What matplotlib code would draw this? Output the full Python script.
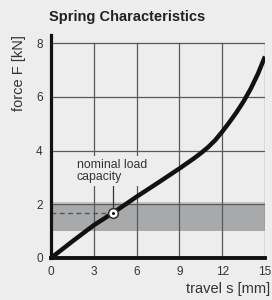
import numpy as np
import matplotlib
matplotlib.use('Agg')
import matplotlib.pyplot as plt

plt.rcParams['font.family'] = ['Liberation Sans', 'DejaVu Sans']

# spring curve
travel_mm = [0, 1.5, 3, 4.35, 6, 7.5, 9, 10, 10.5, 11, 11.5, 12, 12.5, 13,
             13.5, 14, 14.5, 15]
force_kN = [0, 0.62, 1.22, 1.68, 2.28, 2.8, 3.33, 3.7, 3.9, 4.12, 4.38, 4.7,
            5.05, 5.42, 5.83, 6.3, 6.85, 7.5]

x_ticks = [0, 3, 6, 9, 12, 15]
y_ticks = [0, 2, 4, 6, 8]

band_low, band_high = 1.0, 2.0
nominal_s, nominal_F = 4.35, 1.68

BG = '#ecedec'
GRID = '#585858'
TXT = '#333333'

fig = plt.figure(figsize=(2.72, 3.0), dpi=100, facecolor=BG)
ax = fig.add_axes([51/272, 42/300, 214/272, 223/300])
ax.set_facecolor(BG)

# grey band for the load range
ax.fill_between([0, 15], band_low, band_high, color='#a8a9ab', lw=0, zorder=1)
ax.fill_between([0, 15], band_high, band_high + 0.08, color='#c6c7c8', lw=0, zorder=1)

# grid only inside 0..15 x 0..8
for xv in x_ticks[1:]:
    ax.plot([xv, xv], [0, 8], color=GRID, lw=0.9, zorder=2)
for yv in y_ticks[1:]:
    ax.plot([0, 15], [yv, yv], color=GRID, lw=0.9, zorder=2)

# dashed line and leader to the nominal point
ax.plot([0, nominal_s], [nominal_F, nominal_F], color='#555555', lw=1.0,
        dashes=(3.5, 2.5), zorder=3)
ax.plot([nominal_s, nominal_s], [nominal_F, 3.2], color='#333333', lw=0.9, zorder=3)

ax.text(1.82, 3.24, 'nominal load\ncapacity', fontsize=8.8, color=TXT,
        ha='left', va='center', linespacing=0.95, zorder=4,
        bbox=dict(facecolor=BG, edgecolor='none', pad=2.5))

ax.plot(travel_mm, force_kN, color='#111111', lw=3.2, solid_capstyle='butt',
        solid_joinstyle='round', zorder=5)

ax.plot([nominal_s], [nominal_F], marker='o', ms=7, mfc='white', mec='#333333',
        mew=1.1, zorder=6)
ax.plot([nominal_s], [nominal_F], marker='o', ms=2.2, mfc='#111111', mec='none', zorder=7)

ax.set_xlim(0, 15)
ax.set_ylim(0, 8.3)
ax.set_xticks(x_ticks)
ax.set_yticks(y_ticks)
ax.tick_params(length=0, labelsize=8.5, labelcolor=TXT)
ax.tick_params(axis='x', pad=6)
ax.tick_params(axis='y', pad=6)

for s in ['top', 'right']:
    ax.spines[s].set_visible(False)
ax.spines['left'].set_linewidth(2.3)
ax.spines['bottom'].set_linewidth(2.8)
ax.spines['left'].set_color('#111111')
ax.spines['bottom'].set_color('#111111')
ax.spines['bottom'].set_capstyle('projecting')
ax.spines['left'].set_zorder(8)
ax.spines['bottom'].set_zorder(8)

fig.text(49/272, 1 - 17/300, 'Spring Characteristics', fontsize=10.5,
         fontweight='bold', color='#222222', ha='left', va='center')
fig.text(19/272, 1 - 73/300, 'force F [kN]', fontsize=10.5, color=TXT,
         rotation=90, ha='center', va='center')
fig.text(270/272, 1 - 289/300, 'travel s [mm]', fontsize=10.5, color=TXT,
         ha='right', va='center')

fig.savefig('out.png', dpi=100, facecolor=BG)
